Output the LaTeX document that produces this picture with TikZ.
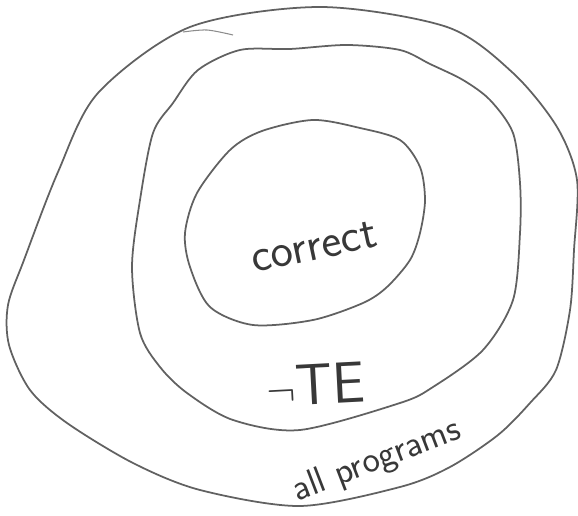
\documentclass[tikz,border=0pt]{standalone}
\usepackage{tikz}
\usetikzlibrary{positioning}

\begin{document}
\begin{tikzpicture}[x=0.02cm, y=-0.02cm, font=\sffamily,
    rim/.style={draw=black!62, line width=1pt},
    lbl/.style={text=black!78, inner sep=0pt}]
  \useasboundingbox (0,0) rectangle (578,516);
  % all programs
  \draw[rim] plot[smooth cycle] coordinates {(320,7) (447,27) (513,73) (557,127) (577,180)
    (574,250) (570,310) (556,370) (530,403) (498,435) (450,467) (400,487) (300,506)
    (200,490) (133,463) (67,423) (30,390) (9,345) (8,305) (24,260) (58,172) (98,93) (190,27)};
  \draw[rim, draw=black!45, line width=0.6pt] plot[smooth] coordinates {(183,32) (207,30) (233,35)};
  % not TE
  \draw[rim] plot[smooth cycle] coordinates {(240,50) (290,49) (347,45) (400,50) (430,64)
    (463,80) (490,100) (513,133) (520,183) (520,233) (513,300) (483,350) (433,387)
    (400,403) (300,430) (233,420) (187,393) (160,367) (140,333) (132,267) (140,200)
    (153,133) (173,103) (198,70)};
  % correct
  \draw[rim] plot[smooth cycle] coordinates {(313,120) (360,128) (400,140) (420,167)
    (425,200) (420,233) (410,260) (387,287) (363,303) (313,320) (253,325) (210,307)
    (190,267) (185,233) (197,193) (230,150) (262,131)};
  \node[lbl, font=\sffamily\fontsize{27}{30}\selectfont, rotate=12] (correct) at (314,247) {correct};
  \node[lbl, font=\sffamily\fontsize{33}{36}\selectfont, rotate=3] (notte) at (316,384) {$\neg$TE};
  \node[lbl, font=\sffamily\fontsize{21}{24}\selectfont, rotate=21] (allprog) at (377,461) {all programs};
\end{tikzpicture}
\end{document}
